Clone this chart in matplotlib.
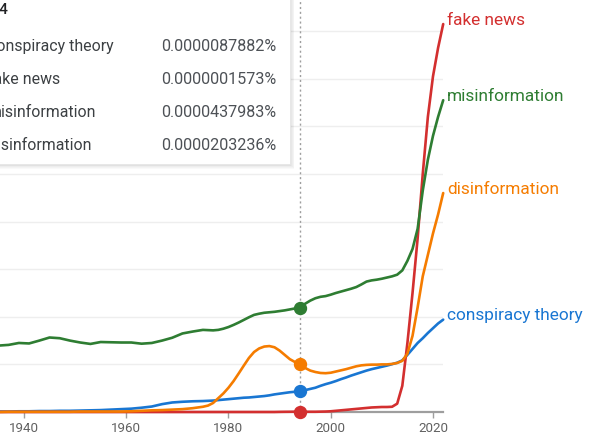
import matplotlib
matplotlib.use('Agg')
import matplotlib.pyplot as plt
from matplotlib.patches import Rectangle

plt.rcParams['font.family'] = ['Roboto', 'DejaVu Sans']

# values are in units of 1e-5 %  (one gridline step = 0.00002 %)
years = list(range(1935, 1974, 2)) + list(range(1975, 2023))

conspiracy = [0.02, 0.02, 0.03, 0.03, 0.04, 0.04, 0.05, 0.05, 0.06, 0.07,
              0.08, 0.10, 0.12, 0.14, 0.18, 0.23, 0.33, 0.40, 0.43, 0.45,
              # 1975-
              0.46, 0.47, 0.48, 0.50, 0.52, 0.54, 0.56, 0.58, 0.60, 0.61,
              0.63, 0.65, 0.67, 0.70, 0.74, 0.77, 0.80, 0.83, 0.85, 0.87882,
              0.92, 0.97, 1.02, 1.10, 1.17, 1.23, 1.30, 1.38, 1.45, 1.53,
              1.60, 1.67, 1.74, 1.80, 1.85, 1.90, 1.95, 2.01, 2.07, 2.17,
              2.40, 2.65, 2.90, 3.10, 3.32, 3.52, 3.72, 3.88]

fake_news = [0.0] * 20 + [
             0.0, 0.0, 0.0, 0.0, 0.0, 0.0, 0.0, 0.0, 0.0, 0.0,
             0.0, 0.0, 0.0, 0.0, 0.0, 0.005, 0.008, 0.01, 0.013, 0.01573,
             0.01, 0.01, 0.01, 0.015, 0.02, 0.03, 0.05, 0.07, 0.09, 0.11,
             0.13, 0.15, 0.17, 0.19, 0.20, 0.21, 0.21, 0.22, 0.35, 1.10,
             2.90, 5.00, 7.30, 10.0, 12.4, 14.1, 15.3, 16.3]

misinformation = [2.79, 2.82, 2.90, 2.88, 3.00, 3.13, 3.10, 3.00, 2.92, 2.86,
                  2.94, 2.93, 2.92, 2.92, 2.87, 2.90, 3.00, 3.12, 3.30, 3.38,
                  3.45, 3.44, 3.43, 3.45, 3.50, 3.57, 3.66, 3.76, 3.87, 3.98,
                  4.08, 4.13, 4.17, 4.19, 4.21, 4.24, 4.27, 4.31, 4.35, 4.37983,
                  4.55, 4.68, 4.78, 4.84, 4.87, 4.93, 5.00, 5.06, 5.12, 5.18,
                  5.25, 5.36, 5.48, 5.53, 5.56, 5.60, 5.65, 5.70, 5.77, 5.95,
                  6.35, 6.85, 7.70, 9.30, 10.6, 11.6, 12.4, 13.1]

disinformation = [0.0, 0.01, 0.01, 0.01, 0.01, 0.01, 0.01, 0.01, 0.02, 0.02,
                  0.02, 0.02, 0.02, 0.03, 0.05, 0.07, 0.08, 0.10, 0.12, 0.16,
                  0.22, 0.27, 0.38, 0.58, 0.78, 1.02, 1.30, 1.62, 1.95, 2.27,
                  2.52, 2.67, 2.75, 2.77, 2.72, 2.58, 2.40, 2.22, 2.10, 2.03236,
                  1.85, 1.74, 1.68, 1.64, 1.63, 1.65, 1.70, 1.75, 1.80, 1.86,
                  1.92, 1.96, 1.98, 1.99, 1.99, 2.00, 2.00, 2.02, 2.06, 2.15,
                  2.45, 3.20, 4.40, 5.70, 6.60, 7.50, 8.30, 9.20]

names = ['conspiracy theory', 'fake news', 'misinformation', 'disinformation']
series = [conspiracy, fake_news, misinformation, disinformation]
colors = ['#1976d2', '#d32f2f', '#2e7d32', '#f57c00']
pct_1994 = ['0.0000087882%', '0.0000001573%', '0.0000437983%', '0.0000203236%']

W, H = 604, 434
fig = plt.figure(figsize=(W / 100, H / 100), dpi=100)
ax = fig.add_axes([0, 22 / H, 443.2 / W, 412 / H])
ax.set_xlim(1935.31, 2022)
ax.set_ylim(0, 412 / 23.8)

ax.set_yticks(range(2, 17, 2))
ax.yaxis.grid(True, color='#eeeeee', lw=1)
ax.tick_params(axis='y', length=0, labelleft=False)
for s in ['left', 'right', 'top']:
    ax.spines[s].set_visible(False)
ax.spines['bottom'].set_color('#9e9e9e')
ax.spines['bottom'].set_linewidth(1.6)
ax.set_xticks([1940, 1960, 1980, 2000, 2020])
ax.tick_params(axis='x', length=4, width=1, color='#9e9e9e', pad=3,
               labelsize=9.6, labelcolor='#616161')
ax.set_axisbelow(True)

ax.axvline(1994, color='#9e9e9e', lw=1, ls=(0, (1.5, 2)), zorder=2)

i94 = years.index(1994)
for name, vals, c in zip(names, series, colors):
    ax.plot(years, vals, color=c, lw=1.9, solid_capstyle='round', solid_joinstyle='round',
            zorder=3, clip_on=False)
    ax.plot(1994, vals[i94], 'o', ms=8.6, color=c, zorder=4, clip_on=False)
    ax.annotate(name, xy=(2022, vals[-1]), xytext=(4, 4), textcoords='offset pixels',
                va='center', ha='left', color=c, fontsize=12.4, annotation_clip=False)


def fx(x):
    return x / W


def fy(y):
    return 1 - y / H


# hover box (cut off on the left)
for k in range(1, 7):
    fig.patches.append(Rectangle((fx(-20), fy(164 + k * 0.8)), (310 + k * 0.7) / W, (184 + k) / H,
                                 transform=fig.transFigure, color='black', alpha=0.025,
                                 lw=0, zorder=8))
fig.patches.append(Rectangle((fx(-20), fy(164)), 310 / W, 184 / H, transform=fig.transFigure,
                             facecolor='white', edgecolor='#e6e6e6', lw=0.6, zorder=9))
fig.text(fx(9), fy(10), '1994', ha='right', va='center', fontsize=11, color='#202124',
         fontweight='medium', zorder=10)
row_y = [46.5, 79.5, 112.5, 145.5]
for name, val, y in zip(names, pct_1994, row_y):
    fig.text(fx(-12), fy(y), name, ha='left', va='center', fontsize=11.45, color='#3c4043', zorder=10)
    fig.text(fx(276), fy(y), val, ha='right', va='center', fontsize=11.6, color='#4d5156', zorder=10)

fig.savefig('out.png', dpi=100)
